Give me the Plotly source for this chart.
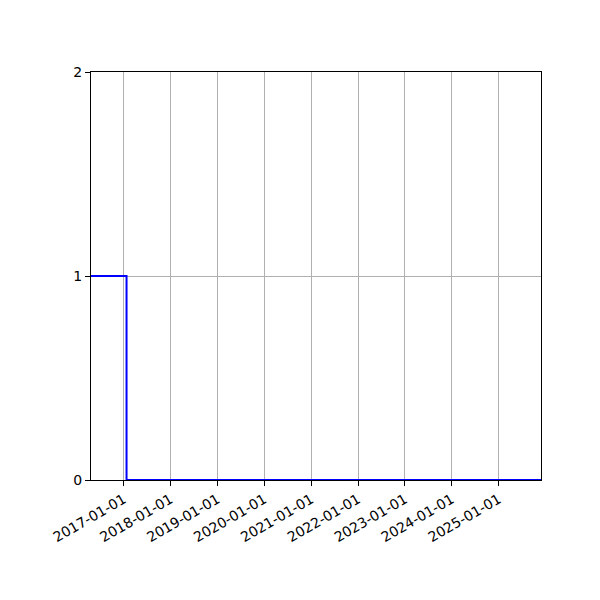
import plotly.graph_objects as go

dates = ["2016-04-21", "2017-01-23", "2025-11-27"]
values = [1, 0, 0]
tick_dates = ["2017-01-01", "2018-01-01", "2019-01-01", "2020-01-01", "2021-01-01",
              "2022-01-01", "2023-01-01", "2024-01-01", "2025-01-01"]
y_ticks = [0, 1, 2]

fig = go.Figure()
fig.add_trace(go.Scatter(x=dates, y=values, mode="lines",
                         line=dict(color="blue", width=2, shape="hv"),
                         showlegend=False))

fig.update_layout(
    width=600, height=600,
    margin=dict(l=83, r=67, t=64, b=128),
    paper_bgcolor="white", plot_bgcolor="white",
    font=dict(family="DejaVu Sans", size=14, color="black"),
)
fig.update_xaxes(
    type="date", range=["2016-04-21", "2025-11-27"],
    tickvals=tick_dates, ticktext=tick_dates, tickangle=-30,
    showgrid=True, gridcolor="#b0b0b0", gridwidth=1,
    showline=True, linecolor="black", linewidth=1, mirror=True,
    ticks="outside", ticklen=5, tickcolor="black", zeroline=False,
)
fig.update_yaxes(
    range=[0, 2], tickvals=y_ticks,
    showgrid=True, gridcolor="#b0b0b0", gridwidth=1,
    showline=True, linecolor="black", linewidth=1, mirror=True,
    ticks="outside", ticklen=5, tickcolor="black", zeroline=False,
)
fig.write_html("out.html")
